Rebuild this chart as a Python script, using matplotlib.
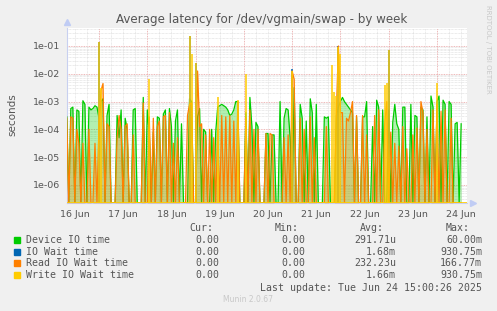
import matplotlib
matplotlib.use('Agg')
import matplotlib.pyplot as plt
import numpy as np

# hours counted from 16 Jun 00:00, one sample per hour
hours = list(range(8, 205))

# log10 of the latency in seconds, None = 0
device_log = [
    -3.55, None, -3.25, -3.2, None, -3.3, -3.35, None, -2.97, -3.1,
    None, -3.2, -3.3, -3.25, -3.15, -3.2, -3.6, -3.0, -2.9, None,
    -3.5, -3.1, None, None, None, -3.5, -4.3, -3.3, None, -3.6,
    -4.0, None, None, -3.3, -3.25, None, None, None, -2.85, None,
    -3.3, -4.15, None, -4.1, None, -3.55, -3.6, None, -3.45, -3.3,
    None, -3.25, -3.9, None, -3.7, -3.3, None, -3.8, None, None,
    None, -2.9, -3.0, None, None, -3.55, -3.25, None, -4.0, -4.1,
    None, None, -4.0, None, -4.1, -3.2, -3.15, -3.1, -3.15, -3.2,
    -3.3, -3.5, -3.45, -3.3, -3.0, -3.0, None, None, None, -3.4,
    None, -2.85, -3.9, None, -3.75, -3.9, None, None, None, -4.15,
    -4.15, None, -4.2, -4.2, None, None, -3.0, None, -3.6, -3.25,
    -3.3, -4.3, None, -2.5, None, None, -3.1, -3.6, None, -3.7,
    None, -2.9, -3.4, None, -3.1, None, None, None, -3.55, -3.6,
    -3.55, None, None, None, -3.5, -3.2, -3.0, -2.85, -3.0, -3.1,
    -3.2, -3.3, -3.4, None, -3.55, None, None, -3.55, -3.55, -3.0,
    None, None, -3.9, None, -2.95, -3.2, None, -3.3, None, None,
    -3.3, None, -3.75, -3.1, -3.8, -4.0, None, -3.2, -3.2, None,
    None, -3.1, None, -3.5, -3.55, None, -3.2, -3.3, None, -3.55,
    None, -2.8, -3.2, None, -3.0, -2.8, None, -2.95, -3.1, None,
    -3.0, -3.1, None, -3.8, -3.75, None, -3.8,
]

read_log = [
    -3.6, None, -3.55, -3.6, None, -4.0, -4.5, None, -4.5, None,
    None, -4.0, None, None, -4.5, None, -3.8, -2.6, -2.35, None,
    -3.8, -3.9, None, None, None, -4.3, -3.5, -4.0, None, -3.9,
    -3.8, None, None, -4.2, None, None, None, None, -3.05, None,
    None, -3.55, None, -3.6, None, -3.9, -3.7, None, -3.55, -3.5,
    None, -3.4, None, -4.5, None, -4.3, None, None, None, None,
    -3.5, -3.1, -3.05, None, None, -1.9, -3.9, -3.8, None, -4.2,
    None, -4.0, None, -4.3, None, -4.0, None, -3.5, None, -3.55,
    None, -3.5, None, -3.7, None, -3.0, None, None, None, -3.6,
    None, -3.3, None, -4.0, None, -4.0, None, None, None, -4.15,
    None, -4.15, -4.2, None, None, None, None, None, -4.3, None,
    -4.2, None, -1.9, -2.2, None, None, -3.6, None, -4.0, None,
    None, -3.55, None, -4.3, None, None, None, None, None, -3.9,
    None, None, None, None, -3.3, -1.0, -3.4, -3.4, None, -3.6,
    -3.7, -3.4, -3.0, None, -3.5, None, None, -3.5, None, -4.2,
    None, None, None, -3.5, None, -3.3, None, None, -3.8, -3.0,
    None, -4.1, None, -4.5, None, -4.6, None, -3.9, None, -4.7,
    None, None, -4.2, None, -3.95, None, -3.0, -3.4, None, -4.0,
    None, None, -3.3, None, -3.1, None, -3.35, None, -3.3, None,
    None, -3.6, None, None, None, None, None,
]

# sparse series: only the non-zero hours
write_hours = [24, 25, 49, 69, 70, 72, 83, 93, 97, 120, 140, 141, 142, 143, 144, 166, 167, 168, 192]
write_log = [-0.84, -2.5, -2.2, -0.64, -1.3, -1.6, -2.85, -2.95, -2.0, -1.9,
             -1.7, -2.65, -2.8, -1.05, -1.3, -2.4, -2.35, -1.15, -2.35]
iowait_hours = [24, 69, 72, 120, 143, 168]
iowait_log = [-0.84, -0.64, -1.6, -1.82, -1.0, -1.15]

day_labels = ['16 Jun', '17 Jun', '18 Jun', '19 Jun', '20 Jun',
              '21 Jun', '22 Jun', '23 Jun', '24 Jun']
series_names = ['Device IO time', 'IO Wait time', 'Read IO Wait time', 'Write IO Wait time']
series_colors = ['#00CC00', '#0066B3', '#FF8000', '#FFCC00']
cur_vals = ['0.00', '0.00', '0.00', '0.00']
min_vals = ['0.00', '0.00', '0.00', '0.00']
avg_vals = ['291.71u', '1.68m', '232.23u', '1.66m']
max_vals = ['60.00m', '930.75m', '166.77m', '930.75m']

ymin, ymax = 10 ** -6.65, 10 ** -0.335
W, H = 497, 311


def dense(logs):
    return np.array([10 ** v if v is not None else ymin for v in logs])


def px(x, y):
    return x / W, 1 - y / H


fig = plt.figure(figsize=(W / 100, H / 100), dpi=100, facecolor='#F0F0F0')
ax = fig.add_axes([67 / W, 1 - 203 / H, 400 / W, 175.5 / H])
ax.set_facecolor('white')
ax.set_yscale('log')
ax.set_xlim(8.1, 206.9)
ax.set_ylim(ymin, ymax)

# grid, rrdtool style
dot = (0, (1, 1))
for d in range(-7, 0):
    for m in range(2, 10):
        ax.axhline(m * 10.0 ** d, color='#D8D8D8', lw=0.5, ls=dot, zorder=1)
for d in range(-6, 0):
    ax.axhline(10.0 ** d, color='#E8A0A0', lw=0.6, ls=dot, zorder=1)
for h in range(12, 207, 6):
    if h % 24:
        ax.axvline(h, color='#D8D8D8', lw=0.5, ls=dot, zorder=1)
for h in range(24, 207, 24):
    ax.axvline(h, color='#E8A0A0', lw=0.6, ls=dot, zorder=1)

# device time first, then io wait spikes, then read time on top
dev = dense(device_log)
ax.fill_between(hours, ymin, dev, color=series_colors[0], alpha=0.3, lw=0, zorder=2)
ax.plot(hours, dev, color=series_colors[0], lw=0.9, zorder=3)

ax.vlines(iowait_hours, ymin, [10 ** v for v in iowait_log],
          color=series_colors[1], lw=1.1, zorder=3.5)

rd = dense(read_log)
ax.fill_between(hours, ymin, rd, color=series_colors[2], alpha=0.3, lw=0, zorder=4)
ax.plot(hours, rd, color=series_colors[2], lw=0.9, zorder=4.5)

ax.vlines(write_hours, ymin, [10 ** v for v in write_log],
          color=series_colors[3], lw=1.1, zorder=5)
ax.axhline(ymin * 1.04, color=series_colors[3], lw=1.2, zorder=5)

ax.set_yticks([10.0 ** d for d in range(-6, 0)])
ax.set_yticklabels(['1e-%02d' % -d for d in range(-6, 0)])
ax.yaxis.set_minor_locator(matplotlib.ticker.NullLocator())
ax.set_xticks([12 + 24 * i for i in range(len(day_labels))])
ax.set_xticklabels(day_labels)
ax.tick_params(length=0, labelsize=6.8, colors='#555555', pad=5)
for s in ['top', 'right']:
    ax.spines[s].set_visible(False)
for s in ['left', 'bottom']:
    ax.spines[s].set_color('#C8D0F0')
    ax.spines[s].set_linewidth(0.8)
ax.plot([0], [1.03], marker='^', ms=4, color='#C0CCF4', transform=ax.transAxes, clip_on=False)
ax.plot([1.015], [0], marker='>', ms=4, color='#C0CCF4', transform=ax.transAxes, clip_on=False)

fig.text(*px(262, 19), 'Average latency for /dev/vgmain/swap - by week',
         ha='center', va='center', fontsize=8.6, color='#555555')
fig.text(*px(12, 115), 'seconds', rotation=90, ha='center', va='center',
         fontsize=7.5, color='#555555')
fig.text(*px(488, 5), 'RRDTOOL / TOBI OETIKER', rotation=270, ha='center', va='top',
         fontsize=5, color='#C8C8C8')

mono = dict(family='DejaVu Sans Mono', fontsize=7.1, color='#555555', va='center')
for x, t in [(213, 'Cur:'), (299, 'Min:'), (384, 'Avg:'), (470, 'Max:')]:
    fig.text(*px(x, 228), t, ha='right', **mono)
row_y = [240, 252, 263, 275]
for i, name in enumerate(series_names):
    y = row_y[i]
    fig.patches.append(plt.Rectangle(px(14, y + 3), 6 / W, 6 / H, color=series_colors[i],
                                     transform=fig.transFigure, figure=fig))
    fig.text(*px(26, y), name, ha='left', **mono)
    fig.text(*px(219, y), cur_vals[i], ha='right', **mono)
    fig.text(*px(305, y), min_vals[i], ha='right', **mono)
    fig.text(*px(396, y), avg_vals[i], ha='right', **mono)
    fig.text(*px(482, y), max_vals[i], ha='right', **mono)
fig.text(*px(482, 288), 'Last update: Tue Jun 24 15:00:26 2025', ha='right', **mono)
fig.text(*px(248, 299), 'Munin 2.0.67', ha='center', va='center', fontsize=5.5, color='#C8C8C8')

fig.savefig('out.png', dpi=100, facecolor=fig.get_facecolor())
